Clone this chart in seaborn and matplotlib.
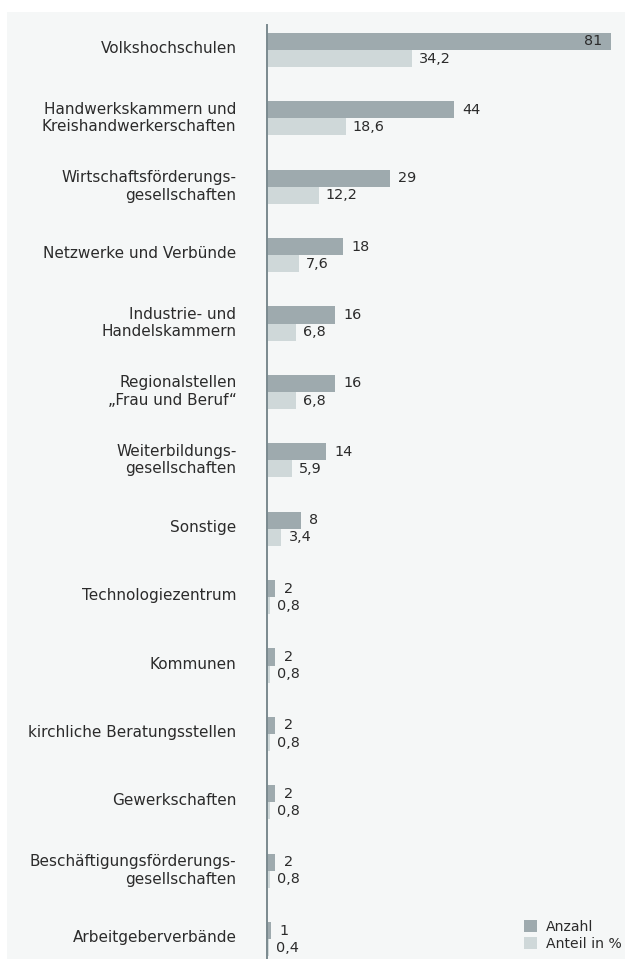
import matplotlib
matplotlib.use("Agg")
import matplotlib.pyplot as plt
from matplotlib.patches import Rectangle
from matplotlib.transforms import ScaledTranslation
import seaborn as sns
import pandas as pd

kategorien = [
    "Volkshochschulen",
    "Handwerkskammern und\nKreishandwerkerschaften",
    "Wirtschaftsförderungs-\ngesellschaften",
    "Netzwerke und Verbünde",
    "Industrie- und\nHandelskammern",
    "Regionalstellen\n„Frau und Beruf“",
    "Weiterbildungs-\ngesellschaften",
    "Sonstige",
    "Technologiezentrum",
    "Kommunen",
    "kirchliche Beratungsstellen",
    "Gewerkschaften",
    "Beschäftigungsförderungs-\ngesellschaften",
    "Arbeitgeberverbände",
]
anzahl = [81, 44, 29, 18, 16, 16, 14, 8, 2, 2, 2, 2, 2, 1]
anteil = [34.2, 18.6, 12.2, 7.6, 6.8, 6.8, 5.9, 3.4, 0.8, 0.8, 0.8, 0.8, 0.8, 0.4]
reihen = ["Anzahl", "Anteil in %"]
farben = ["#9eaaae", "#cfd8d9"]

df = pd.DataFrame({
    "Kategorie": kategorien * 2,
    "Reihe": [reihen[0]] * len(kategorien) + [reihen[1]] * len(kategorien),
    "Wert": anzahl + anteil,
})

sns.set_theme(style="white")
plt.rcParams["font.family"] = ["DejaVu Sans"]
text_col = "#2b2b2b"
fs_cat = 11
fs_val = 10.4
fs_leg = 10.1

W, H = 625, 959
fig = plt.figure(figsize=(W / 100, H / 100), dpi=100, facecolor="white")
# light panel behind the chart
bg = fig.add_axes([0, 0, 1, 1], zorder=-5)
bg.set_axis_off()
bg.add_patch(Rectangle((7 / W, 0), 1, 1 - 12 / H, transform=bg.transAxes,
                       facecolor="#f5f7f7", edgecolor="none"))

ax = fig.add_axes([267 / W, 0, (W - 267) / W, 1 - 25 / H], zorder=1)
ax.set_facecolor("none")

sns.barplot(data=df, y="Kategorie", x="Wert", hue="Reihe", order=kategorien,
            hue_order=reihen, palette=farben, saturation=1, width=0.5,
            orient="h", ax=ax, legend=True, edgecolor="none", linewidth=0)

px_per_unit = 344 / 81
ax.set_xlim(0, (W - 267) / px_per_unit)
ax.set_ylim(13.29, -0.365)

def fmt(v):
    return (f"{v:.1f}" if isinstance(v, float) else f"{v}").replace(".", ",")

bars_n, bars_p = ax.containers[0], ax.containers[1]
lab_n = [fmt(v) for v in anzahl]
lab_n[0] = ""
ax.bar_label(bars_n, labels=lab_n, padding=6, fontsize=fs_val, color=text_col)
ax.bar_label(bars_p, labels=[fmt(v) for v in anteil], padding=5, fontsize=fs_val, color=text_col)
# first value sits inside its bar
b0 = bars_n[0]
ax.annotate(fmt(anzahl[0]), (b0.get_width(), b0.get_y() + b0.get_height() / 2),
            xytext=(-6, 0), textcoords="offset points", ha="right", va="center",
            fontsize=fs_val, color=text_col)

ax.set_xlabel("")
ax.set_ylabel("")
ax.set_xticks([])
ax.tick_params(axis="y", length=0, pad=22, labelsize=fs_cat, labelcolor=text_col)
shift = ScaledTranslation(0, 3 / 100, fig.dpi_scale_trans)
for lbl in ax.get_yticklabels():
    lbl.set_multialignment("right")
    lbl.set_transform(lbl.get_transform() + shift)
for s in ["top", "right", "bottom"]:
    ax.spines[s].set_visible(False)
ax.spines["left"].set_color("#7a8a8f")
ax.spines["left"].set_linewidth(1.4)

leg = ax.legend(loc="lower left", bbox_to_anchor=(524 / W, 8 / H),
                bbox_transform=fig.transFigure, frameon=False, fontsize=fs_leg,
                handlelength=0.95, handleheight=0.95, handletextpad=0.6,
                labelspacing=0.2, borderpad=0, borderaxespad=0)
for t in leg.get_texts():
    t.set_color(text_col)

fig.savefig("out.png", dpi=100, facecolor="white")
